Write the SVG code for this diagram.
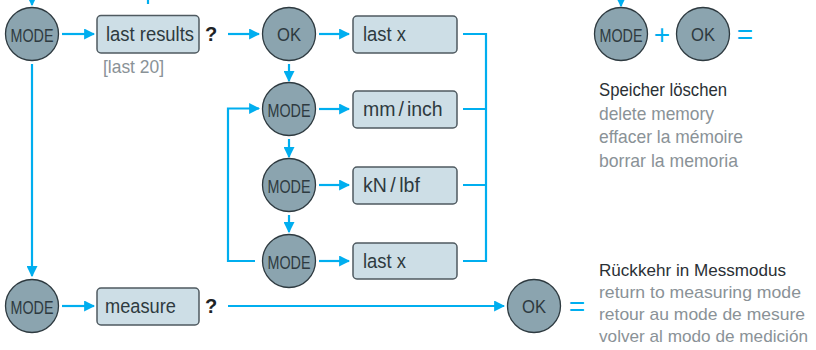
<svg xmlns="http://www.w3.org/2000/svg" width="816" height="350" viewBox="0 0 816 350">
  <style>
    .btn { fill: #8ba4af; stroke: #2e3a40; stroke-width: 1.3; }
    .box { fill: #cddee6; stroke: #4f5a60; stroke-width: 1.5; }
    .btxt { font-family: "Liberation Sans", Arial, sans-serif; fill: #2e3a40; text-anchor: middle; }
    .mode { font-size: 18px; }
    .ok { font-size: 18.5px; }
    .lbl { font-family: "Liberation Sans", Arial, sans-serif; font-size: 20.5px; fill: #2e3a40; }
    .unit { font-size: 19.5px; }
    .q { font-family: "Liberation Sans", Arial, sans-serif; font-size: 20px; font-weight: bold; fill: #1e2326; }
    .op { font-family: "Liberation Sans", Arial, sans-serif; font-size: 28px; fill: #00aeef; text-anchor: middle; }
    .note { font-family: "Liberation Sans", Arial, sans-serif; font-size: 18.5px; fill: #8a9297; }
    .note-s { font-size: 17px; }
    .note-h { fill: #2a3035; }
    .wire { fill: none; stroke: #00aeef; stroke-width: 2.2; }
  </style>
  <defs>
    <marker id="arr" viewBox="0 0 10 10" refX="9" refY="5" markerWidth="5" markerHeight="5" markerUnits="strokeWidth" orient="auto">
      <path d="M0,0 L10,5 L0,10 z" fill="#00aeef"/>
    </marker>
  </defs>

  <!-- connectors -->
  <g id="connectors">
    <path class="wire" d="M32,-10 V5" marker-end="url(#arr)"/>
    <path class="wire" d="M148,0 V4"/>
    <path class="wire" d="M621,-10 V6" marker-end="url(#arr)"/>
    <path class="wire" d="M62,34 H94" marker-end="url(#arr)"/>
    <path class="wire" d="M228,34 H259" marker-end="url(#arr)"/>
    <path class="wire" d="M319,34 H349" marker-end="url(#arr)"/>
    <path class="wire" d="M319,109 H349" marker-end="url(#arr)"/>
    <path class="wire" d="M319,185 H349" marker-end="url(#arr)"/>
    <path class="wire" d="M319,261 H349" marker-end="url(#arr)"/>
    <path class="wire" d="M289,64 V81" marker-end="url(#arr)"/>
    <path class="wire" d="M289,139 V157" marker-end="url(#arr)"/>
    <path class="wire" d="M289,215 V232" marker-end="url(#arr)"/>
    <path class="wire" d="M255,261 H228 V108.5 H259" marker-end="url(#arr)"/>
    <path class="wire" d="M463,34 H486 V261 H463 M463,109 H486 M463,185 H486"/>
    <path class="wire" d="M32,64 V276" marker-end="url(#arr)"/>
    <path class="wire" d="M62,306 H94" marker-end="url(#arr)"/>
    <path class="wire" d="M228,306 H504" marker-end="url(#arr)"/>
  </g>

  <!-- top row -->
  <g id="mode-top">
    <circle class="btn" cx="32" cy="34" r="26.5"/>
    <text class="btxt mode" x="32" y="41.5" textLength="43" lengthAdjust="spacingAndGlyphs">MODE</text>
  </g>
  <g id="last-results">
    <rect class="box" x="97" y="15.5" width="102" height="37.5" rx="4"/>
    <text class="lbl" x="106" y="40.5" textLength="88" lengthAdjust="spacingAndGlyphs">last results</text>
    <text class="q" x="205" y="41">?</text>
    <text class="note" x="103" y="72.5" textLength="61" lengthAdjust="spacingAndGlyphs">[last 20]</text>
  </g>
  <g id="ok-top">
    <circle class="btn" cx="289" cy="34" r="26.5"/>
    <text class="btxt ok" x="289" y="40.7" textLength="24" lengthAdjust="spacingAndGlyphs">OK</text>
  </g>
  <g id="last-x-1">
    <rect class="box" x="353" y="16" width="104" height="37" rx="4"/>
    <text class="lbl" x="363" y="40.7" textLength="43" lengthAdjust="spacingAndGlyphs">last x</text>
  </g>

  <!-- unit cycle -->
  <g id="mode-2">
    <circle class="btn" cx="289" cy="109" r="26.5"/>
    <text class="btxt mode" x="289" y="116.5" textLength="43" lengthAdjust="spacingAndGlyphs">MODE</text>
  </g>
  <g id="mm-inch">
    <rect class="box" x="353" y="91" width="104" height="37" rx="4"/>
    <text class="lbl unit" x="363" y="115.5">mm<tspan dx="3">/</tspan><tspan dx="3">inch</tspan></text>
  </g>
  <g id="mode-3">
    <circle class="btn" cx="289" cy="185" r="26.5"/>
    <text class="btxt mode" x="289" y="192.5" textLength="43" lengthAdjust="spacingAndGlyphs">MODE</text>
  </g>
  <g id="kn-lbf">
    <rect class="box" x="353" y="167" width="104" height="37" rx="4"/>
    <text class="lbl unit" x="363" y="191.7">kN<tspan dx="3.5">/</tspan><tspan dx="3.5">lbf</tspan></text>
  </g>
  <g id="mode-4">
    <circle class="btn" cx="289" cy="261" r="26.5"/>
    <text class="btxt mode" x="289" y="268.5" textLength="43" lengthAdjust="spacingAndGlyphs">MODE</text>
  </g>
  <g id="last-x-2">
    <rect class="box" x="353" y="243" width="104" height="36" rx="4"/>
    <text class="lbl" x="363" y="267.7" textLength="43" lengthAdjust="spacingAndGlyphs">last x</text>
  </g>

  <!-- bottom row -->
  <g id="mode-bottom">
    <circle class="btn" cx="32" cy="306" r="26.5"/>
    <text class="btxt mode" x="32" y="313.5" textLength="43" lengthAdjust="spacingAndGlyphs">MODE</text>
  </g>
  <g id="measure">
    <rect class="box" x="97" y="288" width="102" height="37" rx="4"/>
    <text class="lbl" x="105" y="312.7" textLength="71" lengthAdjust="spacingAndGlyphs">measure</text>
    <text class="q" x="205" y="313">?</text>
  </g>
  <g id="ok-bottom">
    <circle class="btn" cx="534" cy="306" r="26.5"/>
    <text class="btxt ok" x="534" y="312.7" textLength="24" lengthAdjust="spacingAndGlyphs">OK</text>
    <text class="op" x="577" y="316">=</text>
  </g>

  <!-- memory reset combo -->
  <g id="mode-combo">
    <circle class="btn" cx="621" cy="34" r="26.5"/>
    <text class="btxt mode" x="621" y="41.5" textLength="43" lengthAdjust="spacingAndGlyphs">MODE</text>
    <text class="op" x="662" y="44">+</text>
  </g>
  <g id="ok-combo">
    <circle class="btn" cx="703" cy="34" r="26.5"/>
    <text class="btxt ok" x="703" y="40.7" textLength="24" lengthAdjust="spacingAndGlyphs">OK</text>
    <text class="op" x="745" y="44">=</text>
  </g>

  <g id="note-memory">
    <text class="note note-h" x="599" y="96" textLength="128" lengthAdjust="spacingAndGlyphs">Speicher löschen</text>
    <text class="note" x="599" y="119.5" textLength="115" lengthAdjust="spacingAndGlyphs">delete memory</text>
    <text class="note" x="599" y="143" textLength="144" lengthAdjust="spacingAndGlyphs">effacer la mémoire</text>
    <text class="note" x="599" y="166.5" textLength="139" lengthAdjust="spacingAndGlyphs">borrar la memoria</text>
  </g>
  <g id="note-measure">
    <text class="note note-s note-h" x="599" y="275.5" textLength="187" lengthAdjust="spacingAndGlyphs">Rückkehr in Messmodus</text>
    <text class="note note-s" x="599" y="298" textLength="202" lengthAdjust="spacingAndGlyphs">return to measuring mode</text>
    <text class="note note-s" x="599" y="320" textLength="206" lengthAdjust="spacingAndGlyphs">retour au mode de mesure</text>
    <text class="note note-s" x="599" y="342" textLength="209" lengthAdjust="spacingAndGlyphs">volver al modo de medición</text>
  </g>
</svg>
